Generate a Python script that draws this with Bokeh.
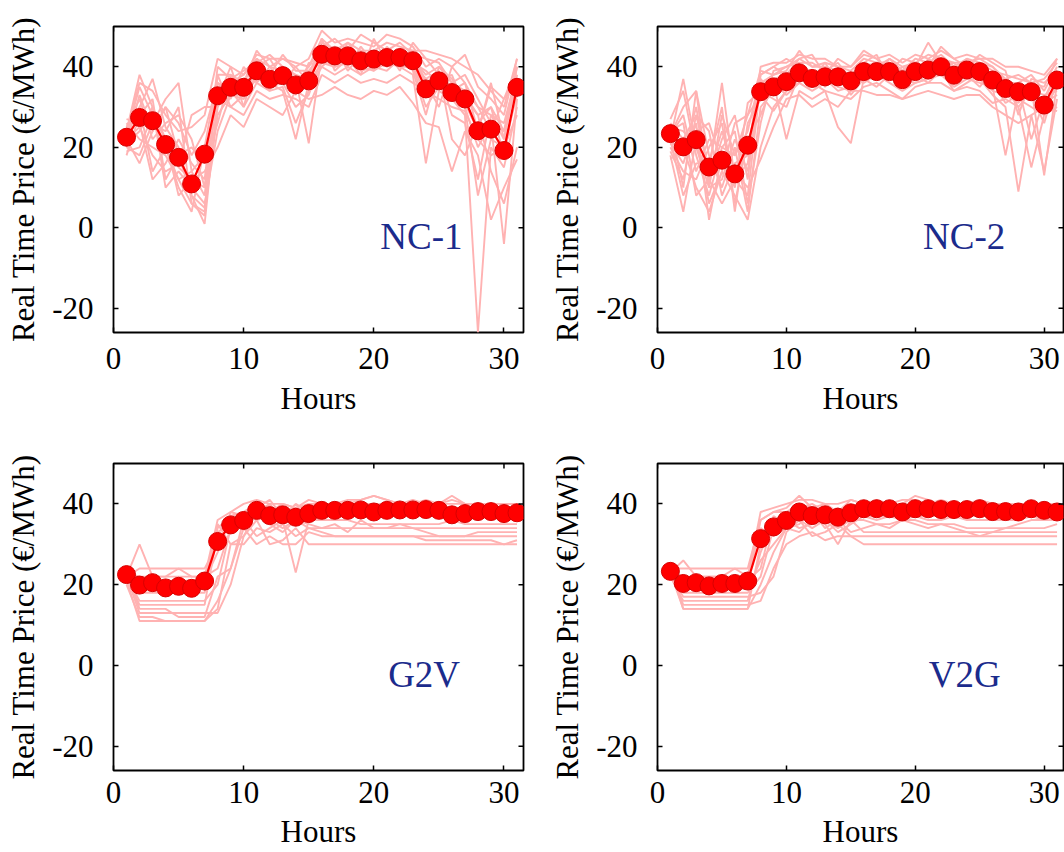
import math
from bokeh.plotting import figure
from bokeh.layouts import column, row
from bokeh.models import Range1d, Label, FixedTicker
from bokeh.embed import file_html
from bokeh.resources import INLINE

hours = list(range(1, 32))

x_ticks = [0, 10, 20, 30]
y_ticks = [-20, 0, 20, 40]
y_tick_text = {-20: "-20"}
x_lim = (0, 31.5)
y_lim = (-26, 50)
x_label = "Hours"
y_label = "Real Time Price (€/MWh)"
panel_names = ["NC-1", "NC-2", "G2V", "V2G"]

# mean price (red markers)
nc1_mean = [22.5, 27.4, 26.6, 20.7, 17.5, 10.9, 18.3, 32.8, 34.9, 34.9,
            39.0, 36.9, 37.8, 35.5, 36.5, 43.1, 42.7, 42.7, 41.5, 41.9,
            42.3, 42.3, 41.5, 34.5, 36.5, 33.6, 32.0, 24.1, 24.5, 19.2, 34.9]
nc2_mean = [23.4, 20.1, 21.9, 15.1, 16.8, 13.4, 20.5, 33.8, 35.0, 36.3,
            38.5, 37.1, 37.5, 37.5, 36.5, 38.8, 38.8, 38.8, 36.8, 38.8,
            39.2, 40.0, 37.9, 39.2, 38.8, 36.7, 34.6, 33.8, 33.8, 30.5, 36.7]
g2v_mean = [22.5, 19.9, 20.5, 19.2, 19.6, 19.1, 20.9, 30.7, 34.8, 35.9,
            38.4, 37.1, 37.3, 36.7, 37.6, 38.4, 38.4, 38.4, 38.5, 38.0,
            38.4, 38.5, 38.5, 38.6, 38.4, 37.3, 37.6, 38.1, 38.1, 37.6, 37.8]
v2g_mean = [23.3, 20.3, 20.5, 19.7, 20.3, 20.3, 20.9, 31.4, 34.3, 35.9,
            38.0, 37.1, 37.3, 36.7, 37.8, 38.8, 38.8, 38.8, 38.0, 38.8,
            38.8, 38.6, 38.6, 38.6, 38.8, 38.1, 38.1, 38.0, 38.8, 38.4, 38.0]

# scenario prices (light pink lines)
nc1_scen = [
    [24, 38, 30, 22, 15, 12, 10, 34, 36, 38, 42, 40, 39, 37, 38, 46, 44, 45, 43, 42, 44, 43, 42, 38, 40, 36, 34, 30, 28, 22, 38],
    [20, 30, 37, 25, 20, 8, 5, 28, 33, 32, 38, 35, 36, 30, 33, 42, 40, 41, 40, 39, 41, 40, 40, 30, 35, 32, 28, -26, 20, 15, 30],
    [26, 22, 20, 18, 12, 6, 3, 30, 36, 35, 40, 38, 39, 38, 37, 44, 45, 44, 42, 43, 43, 44, 42, 36, 38, 35, 33, 28, 30, 24, 36],
    [18, 28, 26, 32, 36, 14, 8, 36, 34, 30, 36, 34, 35, 26, 34, 40, 38, 40, 38, 40, 39, 42, 40, 33, 37, 38, 30, 20, 26, -4, 32],
    [23, 35, 28, 20, 10, 4, 20, 38, 38, 36, 44, 40, 42, 40, 42, 49, 46, 47, 46, 45, 48, 47, 45, 40, 42, 40, 43, 35, 32, 28, 42],
    [22, 16, 24, 30, 18, 8, 1, 32, 30, 28, 34, 32, 33, 32, 30, 38, 36, 38, 36, 37, 36, 38, 36, 34, 32, 30, 29, 22, 18, 20, 28],
    [27, 26, 12, 16, 22, 16, 12, 40, 37, 39, 41, 43, 40, 36, 40, 45, 47, 44, 48, 46, 44, 46, 43, 42, 41, 36, 38, 32, 26, 24, 40],
    [21, 24, 30, 10, 14, 10, 6, 24, 33, 33, 37, 36, 34, 22, 36, 41, 40, 42, 39, 40, 42, 40, 38, 16, 34, 32, 30, 8, 22, 20, 33],
    [25, 32, 22, 26, 28, 22, 10, 34, 35, 37, 39, 38, 38, 37, 21, 43, 42, 43, 41, 43, 40, 43, 41, 37, 39, 22, 18, 26, 30, 18, 35],
    [19, 20, 28, 22, 8, 12, 14, 20, 28, 25, 32, 30, 28, 34, 32, 33, 35, 33, 32, 34, 33, 35, 31, 26, 25, 14, 24, 18, 2, 10, 17],
    [24, 36, 34, 28, 24, 25, 28, 42, 40, 38, 43, 42, 42, 41, 40, 47, 44, 46, 44, 44, 46, 45, 44, 44, 43, 42, 40, 38, 34, 30, 42],
    [22, 25, 18, 14, 16, 28, 30, 30, 36, 36, 38, 36, 38, 35, 38, 42, 41, 41, 40, 41, 42, 41, 40, 35, 36, 34, 31, 24, 35, 32, 36],
    [21, 33, 24, 30, 26, 18, 24, 36, 32, 40, 36, 40, 36, 40, 36, 44, 40, 46, 42, 44, 40, 42, 44, 36, 30, 40, 36, 30, 24, 32, 40],
    [25, 28, 32, 12, 18, 20, 16, 26, 38, 34, 40, 42, 37, 33, 41, 40, 43, 40, 45, 41, 44, 39, 46, 42, 38, 28, 26, 12, 28, 26, 38],
    [20, 18, 26, 24, 30, 6, 4, 38, 30, 33, 39, 34, 40, 38, 35, 47, 39, 42, 38, 47, 41, 44, 39, 28, 40, 37, 32, 28, 14, 6, 20],
    [23, 30, 14, 20, 12, 14, 18, 32, 40, 30, 42, 38, 43, 39, 39, 43, 45, 39, 43, 39, 45, 42, 41, 39, 36, 34, 36, 24, 36, 22, 40],
]
nc2_scen = [
    [22, 37, 20, 14, 36, 12, 8, 36, 38, 39, 44, 40, 40, 39, 38, 41, 40, 42, 40, 41, 43, 42, 41, 41, 42, 40, 36, 36, 38, 34, 40],
    [25, 10, 34, 18, 10, 20, 4, 30, 34, 36, 40, 38, 37, 35, 34, 40, 39, 38, 37, 40, 46, 41, 38, 42, 40, 38, 34, 32, 30, 28, 36],
    [18, 4, 22, 6, 14, 8, 2, 20, 30, 34, 36, 34, 36, 36, 38, 36, 38, 40, 35, 38, 38, 40, 36, 38, 37, 33, 30, 9, 28, 14, 32],
    [24, 26, 8, 12, 22, 28, 12, 38, 40, 38, 42, 40, 41, 40, 39, 42, 41, 41, 39, 42, 41, 43, 40, 42, 41, 39, 38, 37, 36, 35, 42],
    [21, 16, 26, 2, 18, 10, 31, 34, 32, 30, 38, 36, 34, 25, 21, 37, 38, 36, 34, 36, 37, 38, 35, 37, 36, 35, 18, 34, 34, 30, 35],
    [26, 22, 28, 24, 8, 16, 18, 40, 41, 41, 43, 42, 42, 40, 40, 43, 42, 43, 41, 43, 42, 44, 42, 43, 42, 42, 40, 40, 39, 38, 42],
    [20, 14, 12, 20, 26, 6, 22, 28, 36, 22, 34, 32, 34, 33, 32, 35, 36, 34, 32, 35, 36, 36, 34, 35, 34, 31, 32, 30, 15, 28, 30],
    [23, 30, 34, 10, 12, 22, 14, 36, 37, 38, 40, 38, 38, 38, 36, 39, 40, 39, 38, 39, 40, 41, 39, 40, 39, 37, 35, 34, 33, 32, 38],
    [22, 8, 16, 16, 30, 4, 26, 32, 35, 37, 39, 37, 40, 37, 36, 38, 37, 40, 36, 38, 39, 40, 38, 39, 40, 36, 36, 32, 33, 26, 37],
    [17, 20, 24, 26, 16, 14, 10, 17, 25, 32, 33, 30, 32, 30, 34, 34, 33, 33, 32, 33, 34, 33, 32, 33, 33, 30, 28, 26, 28, 30, 29],
    [27, 34, 18, 8, 20, 18, 28, 39, 38, 40, 41, 41, 39, 41, 37, 40, 41, 41, 38, 40, 40, 42, 39, 40, 41, 40, 37, 38, 36, 37, 41],
    [24, 18, 30, 12, 6, 12, 16, 37, 33, 35, 37, 36, 37, 34, 35, 38, 39, 37, 36, 39, 38, 38, 37, 38, 37, 34, 33, 31, 35, 13, 36],
    [23, 28, 14, 22, 20, 24, 6, 26, 39, 40, 42, 43, 38, 42, 40, 44, 42, 39, 42, 41, 40, 45, 42, 40, 43, 41, 39, 28, 37, 36, 39],
    [19, 12, 28, 14, 24, 14, 20, 35, 36, 33, 36, 39, 35, 38, 33, 37, 35, 38, 37, 36, 37, 39, 34, 36, 38, 36, 31, 33, 32, 31, 33],
    [25, 24, 20, 10, 28, 18, 24, 38, 40, 42, 40, 37, 41, 36, 38, 41, 43, 37, 40, 37, 42, 40, 41, 37, 39, 38, 37, 35, 22, 32, 39],
    [21, 20, 10, 4, 14, 26, 28, 33, 29, 34, 38, 35, 36, 37, 36, 39, 38, 42, 39, 38, 36, 39, 40, 38, 35, 39, 35, 30, 34, 33, 34],
]
g2v_scen = [
    [22, 30, 22, 22, 22, 22, 22, 36, 38, 40, 41, 40, 40, 39, 40, 40, 40, 41, 41, 42, 41, 40, 40, 41, 40, 42, 40, 40, 40, 40, 40],
    [21, 18, 18, 18, 18, 18, 18, 34, 37, 38, 40, 38, 39, 37, 39, 40, 40, 40, 40, 40, 40, 40, 40, 40, 40, 40, 40, 40, 40, 40, 40],
    [22, 16, 16, 16, 16, 16, 16, 20, 34, 36, 38, 40, 36, 38, 40, 39, 39, 39, 39, 39, 39, 39, 39, 39, 39, 39, 39, 39, 39, 39, 39],
    [23, 14, 14, 14, 12, 12, 12, 22, 24, 36, 32, 34, 36, 23, 36, 36, 38, 37, 38, 40, 38, 39, 38, 38, 38, 38, 38, 37, 37, 36, 37],
    [20, 12, 12, 11, 11, 11, 11, 14, 30, 30, 34, 33, 35, 32, 34, 33, 32, 32, 32, 32, 32, 32, 32, 31, 31, 31, 31, 31, 31, 30, 31],
    [22, 20, 20, 20, 20, 20, 20, 35, 30, 32, 36, 30, 31, 34, 30, 30, 30, 30, 30, 30, 30, 30, 30, 30, 30, 30, 30, 30, 30, 30, 30],
    [22, 24, 24, 24, 24, 24, 24, 30, 36, 36, 37, 36, 34, 36, 34, 34, 35, 33, 36, 34, 34, 35, 34, 33, 32, 32, 32, 33, 33, 33, 33],
    [21, 11, 11, 11, 11, 11, 11, 16, 24, 34, 30, 32, 30, 30, 33, 32, 32, 32, 32, 32, 32, 32, 32, 32, 32, 32, 32, 32, 32, 32, 32],
    [23, 22, 22, 22, 24, 22, 22, 24, 34, 38, 40, 38, 40, 39, 41, 40, 39, 40, 41, 42, 41, 40, 41, 40, 40, 41, 40, 40, 40, 40, 40],
    [22, 15, 15, 15, 15, 15, 15, 33, 35, 37, 36, 37, 38, 36, 37, 36, 36, 36, 35, 35, 35, 35, 35, 35, 35, 36, 35, 35, 35, 35, 35],
    [23, 21, 21, 21, 21, 21, 21, 28, 38, 37, 39, 41, 37, 40, 38, 38, 38, 38, 38, 38, 38, 38, 38, 38, 38, 38, 38, 38, 38, 38, 38],
    [22, 13, 13, 13, 13, 13, 13, 13, 20, 32, 38, 35, 33, 36, 35, 34, 34, 34, 34, 34, 34, 34, 34, 34, 34, 34, 34, 34, 34, 34, 34],
]
v2g_scen = [
    [23, 26, 22, 22, 22, 24, 22, 38, 39, 40, 41, 41, 40, 38, 41, 40, 40, 40, 41, 41, 40, 41, 40, 40, 41, 40, 40, 40, 40, 40, 40],
    [22, 20, 20, 20, 20, 20, 20, 36, 38, 39, 42, 39, 39, 38, 39, 39, 39, 39, 39, 39, 39, 39, 39, 39, 39, 39, 39, 39, 39, 39, 39],
    [22, 18, 18, 18, 18, 18, 18, 22, 34, 36, 38, 38, 34, 36, 38, 38, 38, 38, 38, 38, 38, 38, 38, 38, 38, 38, 38, 38, 38, 38, 38],
    [24, 14, 14, 14, 14, 14, 14, 20, 28, 34, 33, 36, 35, 30, 36, 36, 35, 35, 36, 36, 35, 35, 35, 34, 34, 34, 34, 34, 34, 34, 35],
    [23, 15, 15, 15, 15, 15, 15, 16, 24, 30, 32, 33, 31, 32, 32, 30, 30, 30, 30, 30, 30, 30, 30, 30, 30, 30, 30, 30, 30, 30, 30],
    [23, 22, 22, 22, 22, 22, 22, 34, 32, 34, 36, 32, 33, 35, 32, 32, 32, 32, 32, 32, 32, 32, 32, 32, 32, 32, 32, 32, 32, 32, 32],
    [22, 16, 16, 16, 16, 16, 16, 28, 36, 37, 37, 36, 35, 36, 33, 34, 35, 34, 36, 35, 34, 35, 34, 33, 32, 33, 34, 35, 36, 36, 37],
    [23, 14, 14, 14, 14, 14, 14, 30, 33, 36, 34, 35, 36, 33, 35, 37, 36, 37, 36, 37, 36, 36, 37, 36, 36, 36, 36, 36, 37, 36, 36],
    [24, 24, 24, 24, 24, 24, 24, 36, 38, 38, 40, 39, 40, 40, 41, 40, 41, 40, 40, 42, 41, 40, 40, 40, 41, 40, 40, 40, 40, 40, 40],
    [22, 19, 19, 19, 19, 19, 19, 26, 30, 34, 35, 38, 37, 37, 38, 37, 37, 37, 37, 37, 37, 37, 37, 37, 37, 37, 37, 37, 37, 37, 37],
    [23, 21, 21, 21, 21, 21, 21, 24, 37, 35, 39, 40, 38, 39, 37, 38, 38, 37, 39, 38, 39, 38, 38, 38, 38, 38, 38, 38, 38, 38, 38],
    [22, 17, 17, 17, 17, 17, 17, 18, 22, 33, 36, 34, 36, 34, 36, 33, 33, 33, 33, 33, 33, 33, 33, 33, 33, 33, 33, 33, 33, 33, 33],
]

FONT = "Liberation Serif"
TICK_SIZE = "31px"
PINK = "#FFB2B2"
RED = "#FF0000"
NAVY = "#1B2B8C"


def style_axis(ax, ticks, label):
    ax.ticker = FixedTicker(ticks=ticks)
    ax.axis_label = label
    ax.axis_label_text_font = FONT
    ax.axis_label_text_font_size = TICK_SIZE
    ax.axis_label_text_font_style = "normal"
    ax.axis_label_text_color = "black"
    ax.major_label_text_font = FONT
    ax.major_label_text_font_size = TICK_SIZE
    ax.major_label_text_color = "black"
    ax.major_tick_in = 5
    ax.major_tick_out = 0
    ax.major_tick_line_color = "black"
    ax.major_tick_line_width = 1.5
    ax.minor_tick_line_color = None
    ax.axis_line_color = None


def make_panel(name, mean, scen, width, height, mbl, mbr, mbt, mbb,
               x_std, x_lab_std, lx, ly):
    p = figure(width=width, height=height, output_backend="svg", toolbar_location=None,
               x_range=Range1d(*x_lim), y_range=Range1d(*y_lim),
               min_border_left=mbl, min_border_right=mbr,
               min_border_top=mbt, min_border_bottom=mbb,
               background_fill_color="white", border_fill_color="white")
    p.xgrid.visible = False
    p.ygrid.visible = False
    p.outline_line_color = "black"
    p.outline_line_width = 1.8
    p.outline_line_alpha = 1.0

    p.multi_line([hours] * len(scen), scen, line_color=PINK, line_width=1.9)
    p.line(hours, mean, line_color=RED, line_width=2.2)
    p.scatter(hours, mean, marker="circle", size=18, fill_color=RED,
              line_color="#D80000", line_width=1)

    # inward tick marks on the top and right edges of the box
    p.scatter(x_ticks, [y_lim[1]] * len(x_ticks), marker="dash", angle=math.pi / 2,
              size=10, line_color="black", line_width=1.5)
    p.scatter([x_lim[1]] * len(y_ticks), y_ticks, marker="dash",
              size=10, line_color="black", line_width=1.5)

    style_axis(p.xaxis[0], x_ticks, x_label)
    p.xaxis[0].major_label_standoff = x_std
    p.xaxis[0].axis_label_standoff = x_lab_std
    style_axis(p.yaxis[0], y_ticks, y_label)
    p.yaxis[0].major_label_overrides = y_tick_text
    p.yaxis[0].major_label_standoff = 20
    p.yaxis[0].axis_label_standoff = 8

    p.add_layout(Label(x=lx, y=ly, text=name, text_font=FONT, text_font_size="37px",
                       text_color=NAVY, text_align="left", text_baseline="alphabetic"))
    return p


# page origin is the top-left pixel; frames: x 113..523 and 657..1063, y 26..332 and 463..770
p1 = make_panel(panel_names[0], nc1_mean, nc1_scen, 544, 437, 113, 21, 26, 105, 15, 9, 20.5, -2.2)
p2 = make_panel(panel_names[1], nc2_mean, nc2_scen, 520, 437, 113, 1, 26, 105, 15, 9, 20.6, -2.2)
p3 = make_panel(panel_names[2], g2v_mean, g2v_scen, 544, 415, 113, 21, 26, 82, 11, 8, 21.1, -2.2)
p4 = make_panel(panel_names[3], v2g_mean, v2g_scen, 520, 415, 113, 1, 26, 82, 11, 8, 21.05, -2.2)

layout = column(row(p1, p2), row(p3, p4))

open("out.html", "w").write(file_html(layout, INLINE))
